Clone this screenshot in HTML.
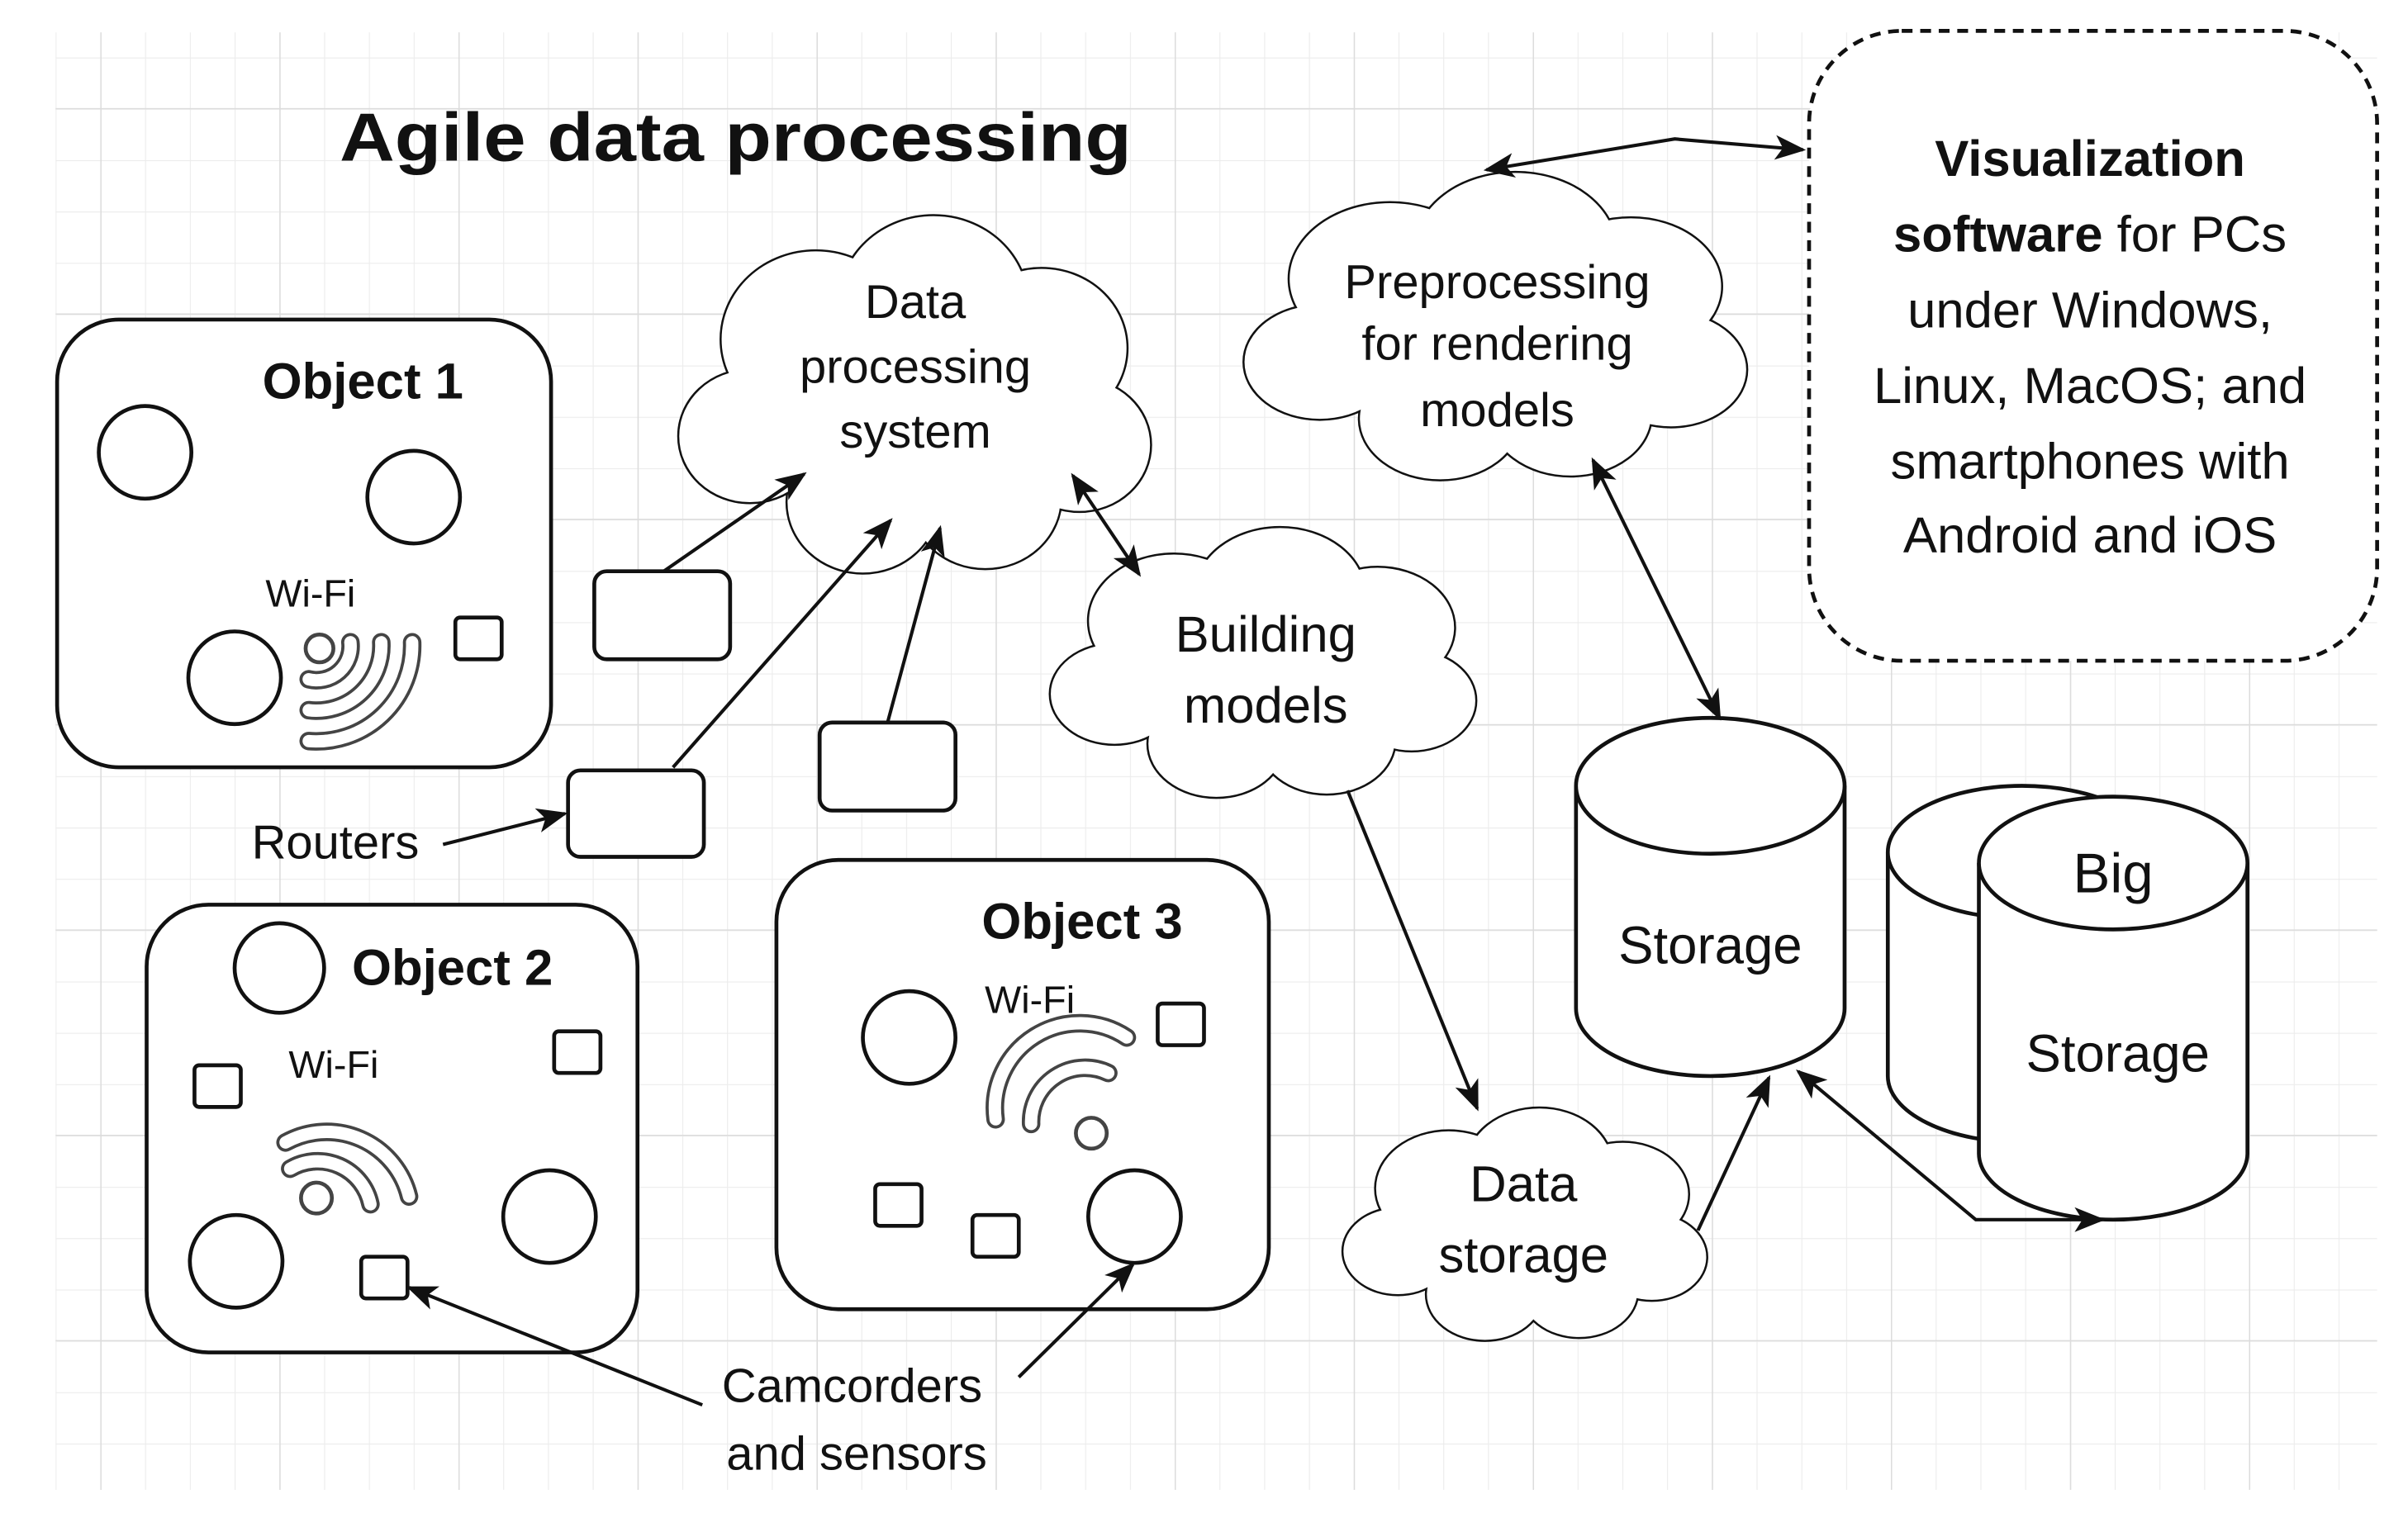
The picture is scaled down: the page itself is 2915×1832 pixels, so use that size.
<!DOCTYPE html>
<html><head><meta charset="utf-8"><style>
html,body{margin:0;padding:0;background:#fff;}
svg{display:block;}
text{font-family:"Liberation Sans",Arial,sans-serif;fill:#111;}
</style></head><body>
<svg width="2915" height="1832" viewBox="0 0 1560 980" preserveAspectRatio="none" xmlns="http://www.w3.org/2000/svg">
<defs>
<pattern id="gmin" x="7" y="4" width="29" height="33.25" patternUnits="userSpaceOnUse">
<path d="M0 0V33.25M0 0H29" stroke="#ececec" stroke-width="1.2" fill="none"/>
</pattern>
<pattern id="gmaj" x="65" y="70" width="116" height="133" patternUnits="userSpaceOnUse">
<path d="M0 0V133M0 0H116" stroke="#dcdcdc" stroke-width="1.6" fill="none"/>
</pattern>
<marker id="ah2" markerWidth="20" markerHeight="20" refX="18" refY="10" orient="auto-start-reverse" markerUnits="userSpaceOnUse" viewBox="0 0 20 20">
<path d="M0 2L20 10L0 18L5 10Z" fill="#111"/>
</marker>
<g id="cloud">
<circle vector-effect="non-scaling-stroke" cx="30" cy="28" r="20"/><circle vector-effect="non-scaling-stroke" cx="55" cy="20" r="20"/><circle vector-effect="non-scaling-stroke" cx="78" cy="30" r="18"/>
<circle vector-effect="non-scaling-stroke" cx="86" cy="52" r="15"/><circle vector-effect="non-scaling-stroke" cx="66" cy="64" r="16"/><circle vector-effect="non-scaling-stroke" cx="40" cy="65" r="16"/>
<circle vector-effect="non-scaling-stroke" cx="16" cy="50" r="15"/><circle vector-effect="non-scaling-stroke" cx="50" cy="43" r="26"/>
</g>
</defs>
<rect x="36" y="21" width="1504" height="944" fill="url(#gmin)"/>
<rect x="36" y="21" width="1504" height="944" fill="url(#gmaj)"/>

<text x="220" y="104" font-size="44" font-weight="bold" textLength="513" lengthAdjust="spacingAndGlyphs">Agile data processing</text>

<g>
<g stroke="#111" stroke-width="5" fill="#fff">
<use href="#cloud" transform="translate(437,140) scale(3.05,2.85)"/>
<use href="#cloud" transform="translate(803,112) scale(3.25,2.45)"/>
<use href="#cloud" transform="translate(678,342) scale(2.75,2.15)"/>
<use href="#cloud" transform="translate(868,718) scale(2.35,1.85)"/>
</g>
<g fill="#fff" stroke="none">
<use href="#cloud" transform="translate(437,140) scale(3.05,2.85)"/>
<use href="#cloud" transform="translate(803,112) scale(3.25,2.45)"/>
<use href="#cloud" transform="translate(678,342) scale(2.75,2.15)"/>
<use href="#cloud" transform="translate(868,718) scale(2.35,1.85)"/>
</g>
</g>
<text font-size="31" text-anchor="middle"><tspan x="593" y="206">Data</tspan><tspan x="593" y="248">processing</tspan><tspan x="593" y="290">system</tspan></text>
<text font-size="31" text-anchor="middle"><tspan x="970" y="193">Preprocessing</tspan><tspan x="970" y="233">for rendering</tspan><tspan x="970" y="276">models</tspan></text>
<text font-size="33" text-anchor="middle"><tspan x="820" y="422">Building</tspan><tspan x="820" y="468">models</tspan></text>
<text font-size="33" text-anchor="middle"><tspan x="987" y="778">Data</tspan><tspan x="987" y="824">storage</tspan></text>

<g fill="#fff" stroke="#111" stroke-width="2.5">
<rect x="37" y="207" width="320" height="290" rx="40"/>
<rect x="95" y="586" width="318" height="290" rx="40"/>
<rect x="503" y="557" width="319" height="291" rx="40"/>
<rect x="385" y="370" width="88" height="57" rx="8"/>
<rect x="368" y="499" width="88" height="56" rx="8"/>
<rect x="531" y="468" width="88" height="57" rx="8"/>
<circle cx="94" cy="293" r="30"/><circle cx="268" cy="322" r="30"/><circle cx="152" cy="439" r="30"/>
<rect x="295" y="400" width="30" height="27" rx="3"/>
<circle cx="181" cy="627" r="29"/><circle cx="153" cy="817" r="30"/><circle cx="356" cy="788" r="30"/>
<rect x="126" y="690" width="30" height="27" rx="3"/><rect x="359" y="668" width="30" height="27" rx="3"/><rect x="234" y="814" width="30" height="27" rx="3"/>
<circle cx="589" cy="672" r="30"/><circle cx="735" cy="788" r="30"/>
<rect x="750" y="650" width="30" height="27" rx="3"/><rect x="567" y="767" width="30" height="27" rx="3"/><rect x="630" y="787" width="30" height="27" rx="3"/>
<rect x="1172" y="20" width="368" height="408" rx="60" stroke-dasharray="7,5"/>
</g>
<text font-size="33" font-weight="bold"><tspan x="170" y="258">Object 1</tspan></text>
<text font-size="33" font-weight="bold"><tspan x="228" y="638">Object 2</tspan></text>
<text font-size="33" font-weight="bold"><tspan x="636" y="608">Object 3</tspan></text>
<text font-size="25" fill="#333"><tspan x="172" y="393">Wi-Fi</tspan></text>
<text font-size="25" fill="#333"><tspan x="187" y="698">Wi-Fi</tspan></text>
<text font-size="25" fill="#333"><tspan x="638" y="656">Wi-Fi</tspan></text>

<g fill="none" stroke-linecap="round">
<g stroke="#444" stroke-width="12">
<path d="M200 440 A22 22 0 0 0 227 416"/><path d="M200 460 A42 42 0 0 0 247 416"/><path d="M200 480 A62 62 0 0 0 267 416"/>
<path d="M185 740 A55 55 0 0 1 265 775"/><path d="M188 757 A35 35 0 0 1 240 780"/>
<path d="M645 725 A55 55 0 0 1 730 672"/><path d="M668 728 A35 35 0 0 1 718 695"/>
</g>
<g stroke="#fff" stroke-width="8">
<path d="M200 440 A22 22 0 0 0 227 416"/><path d="M200 460 A42 42 0 0 0 247 416"/><path d="M200 480 A62 62 0 0 0 267 416"/>
<path d="M185 740 A55 55 0 0 1 265 775"/><path d="M188 757 A35 35 0 0 1 240 780"/>
<path d="M645 725 A55 55 0 0 1 730 672"/><path d="M668 728 A35 35 0 0 1 718 695"/>
</g>
<circle cx="207" cy="420" r="9" stroke="#444" stroke-width="2.5" fill="#fff"/>
<circle cx="205" cy="776" r="10" stroke="#444" stroke-width="2.5" fill="#fff"/>
<circle cx="707" cy="734" r="10" stroke="#444" stroke-width="2.5" fill="#fff"/>
</g>

<g fill="#fff" stroke="#111" stroke-width="2.5">
<path d="M1021 509 V653 A87 44 0 0 0 1195 653 V509"/>
<ellipse cx="1108" cy="509" rx="87" ry="44"/>
<path d="M1223 552 V697 A87 43 0 0 0 1397 697 V552"/>
<ellipse cx="1310" cy="552" rx="87" ry="43"/>
<path d="M1282 559 V747 A87 43 0 0 0 1456 747 V559"/>
<ellipse cx="1369" cy="559" rx="87" ry="43"/>
</g>
<text font-size="34" text-anchor="middle"><tspan x="1108" y="624">Storage</tspan></text>
<text font-size="36" text-anchor="middle"><tspan x="1369" y="578">Big</tspan></text>
<text font-size="34" text-anchor="middle"><tspan x="1372" y="694">Storage</tspan></text>

<text font-size="33" text-anchor="middle"><tspan x="1354" y="114" font-weight="bold">Visualization</tspan><tspan x="1354" y="163"><tspan font-weight="bold">software</tspan> for PCs</tspan><tspan x="1354" y="212">under Windows,</tspan><tspan x="1354" y="261">Linux, MacOS; and</tspan><tspan x="1354" y="310">smartphones with</tspan><tspan x="1354" y="358">Android and iOS</tspan></text>

<text font-size="31"><tspan x="163" y="556">Routers</tspan></text>
<text font-size="31" text-anchor="middle"><tspan x="552" y="908">Camcorders</tspan><tspan x="555" y="952">and sensors</tspan></text>

<g fill="none" stroke="#111" stroke-width="2.2">
<line x1="430" y1="370" x2="521" y2="307" marker-end="url(#ah2)"/>
<line x1="436" y1="497" x2="577" y2="337" marker-end="url(#ah2)"/>
<line x1="575" y1="468" x2="609" y2="342" marker-end="url(#ah2)"/>
<line x1="287" y1="547" x2="366" y2="527" marker-end="url(#ah2)"/>
<line x1="695" y1="308" x2="738" y2="372" marker-start="url(#ah2)" marker-end="url(#ah2)"/>
<line x1="873" y1="512" x2="957" y2="718" marker-end="url(#ah2)"/>
<line x1="1100" y1="797" x2="1146" y2="698" marker-end="url(#ah2)"/>
<polyline points="1165,694 1280,790 1362,790" marker-start="url(#ah2)" marker-end="url(#ah2)"/>
<line x1="1032" y1="298" x2="1114" y2="465" marker-start="url(#ah2)" marker-end="url(#ah2)"/>
<polyline points="963,110 1085,90 1168,97" marker-start="url(#ah2)" marker-end="url(#ah2)"/>
<line x1="455" y1="910" x2="265" y2="834" marker-end="url(#ah2)"/>
<line x1="660" y1="892" x2="734" y2="819" marker-end="url(#ah2)"/>
</g>
</svg>
</body></html>
